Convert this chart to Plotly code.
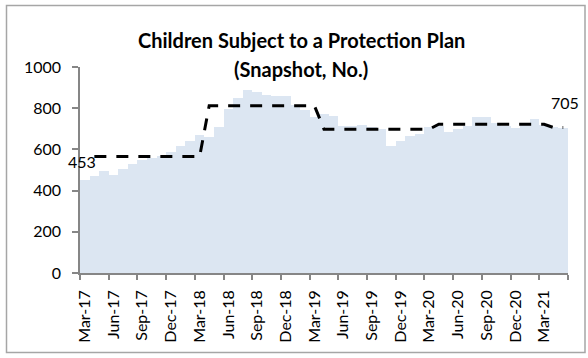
import plotly.graph_objects as go

# Monthly snapshot of children subject to a protection plan
months = ["Mar-17", "Apr-17", "May-17", "Jun-17", "Jul-17", "Aug-17", "Sep-17", "Oct-17",
          "Nov-17", "Dec-17", "Jan-18", "Feb-18", "Mar-18", "Apr-18", "May-18", "Jun-18",
          "Jul-18", "Aug-18", "Sep-18", "Oct-18", "Nov-18", "Dec-18", "Jan-19", "Feb-19",
          "Mar-19", "Apr-19", "May-19", "Jun-19", "Jul-19", "Aug-19", "Sep-19", "Oct-19",
          "Nov-19", "Dec-19", "Jan-20", "Feb-20", "Mar-20", "Apr-20", "May-20", "Jun-20",
          "Jul-20", "Aug-20", "Sep-20", "Oct-20", "Nov-20", "Dec-20", "Jan-21", "Feb-21",
          "Mar-21", "Apr-21", "May-21"]
children = [453, 470, 495, 478, 503, 530, 547, 556, 568, 588,
            615, 642, 670, 658, 710, 796, 850, 886, 881, 866, 861, 861,
            815, 790, 757, 770, 760, 715, 712, 720, 710, 700, 615, 640,
            666, 675, 708, 714, 686, 700, 715, 757, 757, 730, 715, 705,
            722, 748, 717, 710, 705]

# Financial-year (April to March) averages and the number of months each covers
fy_average = [565, 812, 698, 722, 706]
fy_months = [12, 12, 12, 12, 2]

# Every third month is labelled on the axis
tick_labels = months[::3]

idx = list(range(len(months)))
avg_line = [None]
for value, n in zip(fy_average, fy_months):
    avg_line += [value] * n

FONT = "Lato"
AXIS_GREY = "#868686"

# plot-area geometry in pixels, used to place the frame and title
W, H = 588, 358
ML, MR, MT, MB = 80, 20, 67, 85
PW, PH = W - ML - MR, H - MT - MB


def px_x(px):
    return (px - ML) / PW


def px_y(py):
    return (H - MB - py) / PH


fig = go.Figure()
fig.add_trace(go.Bar(
    x=idx, y=children, width=1,
    marker=dict(color="#DCE6F2", line=dict(width=0)),
    hoverinfo="skip", showlegend=False,
))
fig.add_trace(go.Scatter(
    x=idx, y=avg_line, mode="lines",
    line=dict(color="black", width=3, dash="12px,10px"),
    hoverinfo="skip", showlegend=False,
))

# value labels on the first and last month
fig.add_annotation(x=idx[0], y=children[0], text=str(children[0]), showarrow=False,
                   yanchor="bottom", xshift=-3, yshift=7,
                   font=dict(family=FONT, size=16, color="black"))
fig.add_annotation(x=idx[-1], y=children[-1], text=str(children[-1]), showarrow=False,
                   yanchor="bottom", xshift=2, yshift=14,
                   font=dict(family=FONT, size=16, color="black"))

# two-line chart title
fig.add_annotation(xref="paper", yref="paper", x=px_x(301), y=px_y(40),
                   text="<b>Children Subject to a Protection Plan</b>", showarrow=False,
                   xanchor="center", yanchor="middle",
                   font=dict(family=FONT, size=20, color="black"))
fig.add_annotation(xref="paper", yref="paper", x=px_x(301), y=px_y(69),
                   text="<b>(Snapshot, No.)</b>", showarrow=False,
                   xanchor="center", yanchor="middle",
                   font=dict(family=FONT, size=20, color="black"))

# chart frame
fig.add_shape(type="rect", xref="paper", yref="paper",
              x0=px_x(6.5), x1=px_x(585), y0=px_y(352.5), y1=px_y(5.5),
              line=dict(color="#A6A6A6", width=1.5), fillcolor="rgba(0,0,0,0)", layer="below")

boundaries = [i - 0.5 for i in idx[::3]] + [idx[-1] + 0.5]

fig.update_layout(
    width=W, height=H,
    margin=dict(l=ML, r=MR, t=MT, b=MB),
    paper_bgcolor="white", plot_bgcolor="white",
    bargap=0,
    font=dict(family=FONT, size=16, color="black"),
    xaxis=dict(
        range=[-0.5, len(months) - 0.5],
        tickmode="array", tickvals=idx[::3], ticktext=tick_labels,
        tickangle=-90, ticks="", showgrid=False, zeroline=False,
        showline=True, linecolor=AXIS_GREY, linewidth=1.5,
        ticklabelstandoff=9,
        tickfont=dict(family=FONT, size=16, color="black"),
        minor=dict(tickmode="array", tickvals=boundaries, ticks="outside",
                   ticklen=5, tickwidth=1.5, tickcolor=AXIS_GREY, showgrid=False),
    ),
    yaxis=dict(
        range=[0, 1000], tickmode="linear", tick0=0, dtick=200,
        ticks="outside", ticklen=6, tickwidth=1.5, tickcolor=AXIS_GREY,
        showline=True, linecolor=AXIS_GREY, linewidth=1.5,
        showgrid=False, zeroline=False,
        ticklabelstandoff=8,
        tickfont=dict(family=FONT, size=16, color="black"),
    ),
)

fig.write_html("out.html")
